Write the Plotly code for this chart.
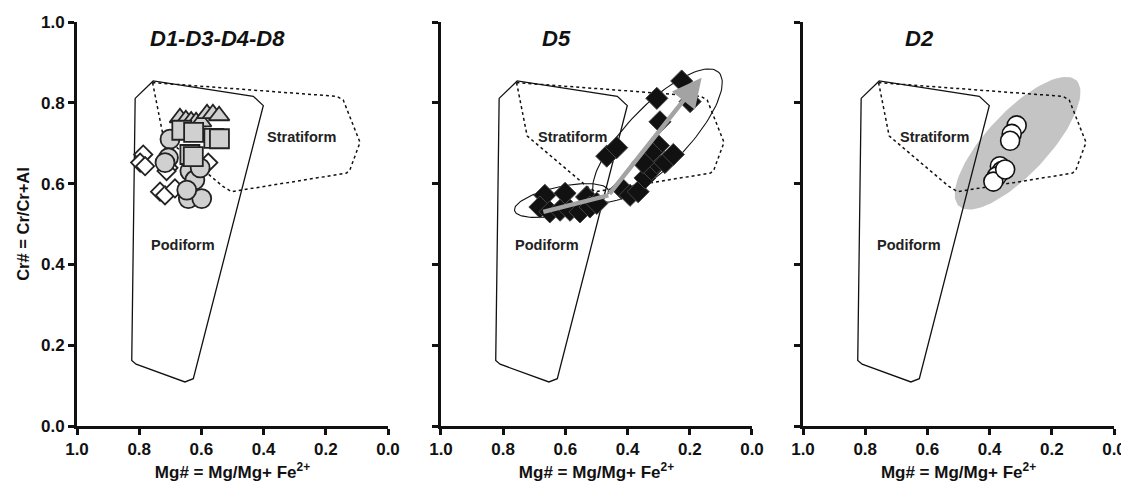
import numpy as np
import plotly.graph_objects as go

# ---------------- data ----------------
# Field outlines (Mg#, Cr#)
PODI_X = [0.813, 0.755, 0.433, 0.401, 0.626, 0.653, 0.810, 0.824, 0.813]
PODI_Y = [0.811, 0.854, 0.816, 0.793, 0.117, 0.109, 0.153, 0.162, 0.811]
STRAT_X = [0.757, 0.723, 0.531, 0.503, 0.133, 0.122, 0.090, 0.144, 0.165, 0.757]
STRAT_Y = [0.850, 0.718, 0.593, 0.580, 0.626, 0.635, 0.702, 0.807, 0.816, 0.850]

# Panel 1: D1-D3-D4-D8
P1_DIAM_X = [0.787, 0.797, 0.781, 0.706, 0.733, 0.717, 0.685, 0.578, 0.712]
P1_DIAM_Y = [0.672, 0.652, 0.643, 0.639, 0.580, 0.571, 0.588, 0.652, 0.631]
P1_CIRC_X = [0.701, 0.706, 0.717, 0.637, 0.621, 0.642, 0.599, 0.647, 0.604]
P1_CIRC_Y = [0.710, 0.664, 0.652, 0.631, 0.609, 0.563, 0.563, 0.584, 0.639]
P1_TRI_X = [0.669, 0.650, 0.633, 0.617, 0.601, 0.582, 0.563, 0.543]
P1_TRI_Y = [0.763, 0.758, 0.755, 0.753, 0.753, 0.773, 0.773, 0.768]
P1_SQ_X = [0.663, 0.625, 0.560, 0.542, 0.637, 0.626]
P1_SQ_Y = [0.732, 0.727, 0.712, 0.711, 0.672, 0.667]

# Panel 2: D5
P2_X = [0.666, 0.601, 0.532, 0.682, 0.650, 0.617, 0.585, 0.553, 0.521, 0.499,
        0.467, 0.435, 0.419, 0.392, 0.366, 0.344, 0.323, 0.306, 0.280, 0.253,
        0.301, 0.323, 0.296, 0.306, 0.226, 0.199, 0.350]
P2_Y = [0.571, 0.576, 0.567, 0.542, 0.530, 0.534, 0.534, 0.530, 0.542, 0.551,
        0.668, 0.689, 0.588, 0.571, 0.580, 0.614, 0.635, 0.652, 0.652, 0.672,
        0.694, 0.677, 0.753, 0.811, 0.854, 0.803, 0.652]
ARROW_X = [0.671, 0.462, 0.162]
ARROW_Y = [0.530, 0.571, 0.862]

# Panel 3: D2
P3_X = [0.313, 0.329, 0.334, 0.367, 0.361, 0.377, 0.388, 0.350]
P3_Y = [0.744, 0.723, 0.706, 0.643, 0.631, 0.618, 0.605, 0.635]

# Ellipses: centre (Mg#, Cr#), semi-axes in px, tilt in degrees
ELL_SMALL = dict(cx=0.6125, cy=0.558, a=48, b=14, ang=12)
ELL_BIG = dict(cx=0.304, cy=0.719, a=88, b=30, ang=46)
ELL_GRAY = dict(cx=0.310, cy=0.700, a=86, b=31, ang=47)

TITLES = ["D1-D3-D4-D8", "D5", "D2"]
TITLE_X = [0.547, 0.630, 0.624]
TICKS = [0.0, 0.2, 0.4, 0.6, 0.8, 1.0]

# ---------------- layout constants ----------------
# the page body has an 8px default margin, so the figure is 8px smaller
W, H = 1121, 480
ML, MR, MT, MB = 69, 15, 14, 62
PW = W - ML - MR
PH = H - MT - MB
DOMAINS = [[0.0, 0.2999], [0.3510, 0.6509], [0.7001, 1.0]]
PX_PER_X = PW * (DOMAINS[0][1] - DOMAINS[0][0])
PX_PER_Y = PH

FONT = "Liberation Sans, Arial, sans-serif"


def ellipse(e, n=120):
    t = np.linspace(0, 2 * np.pi, n)
    th = np.radians(e["ang"])
    ox = e["a"] * np.cos(t) * np.cos(th) - e["b"] * np.sin(t) * np.sin(th)
    oy = e["a"] * np.cos(t) * np.sin(th) + e["b"] * np.sin(t) * np.cos(th)
    return e["cx"] - ox / PX_PER_X, e["cy"] + oy / PX_PER_Y


fig = go.Figure()

for i in range(3):
    xa = "x" if i == 0 else f"x{i+1}"
    ya = "y" if i == 0 else f"y{i+1}"
    if i == 2:
        gx, gy = ellipse(ELL_GRAY)
        fig.add_trace(go.Scatter(x=gx, y=gy, mode="lines", fill="toself",
                                 fillcolor="#c4c4c4", line=dict(width=0),
                                 xaxis=xa, yaxis=ya, hoverinfo="skip"))
    fig.add_trace(go.Scatter(x=PODI_X, y=PODI_Y, mode="lines",
                             line=dict(color="#111", width=1.3),
                             xaxis=xa, yaxis=ya, hoverinfo="skip"))
    fig.add_trace(go.Scatter(x=STRAT_X, y=STRAT_Y, mode="lines",
                             line=dict(color="#111", width=1.5, dash="3px,3px"),
                             xaxis=xa, yaxis=ya, hoverinfo="skip"))

# Panel 1 markers
fig.add_trace(go.Scatter(x=P1_DIAM_X, y=P1_DIAM_Y, mode="markers",
                         marker=dict(symbol="diamond", size=14, color="white",
                                     line=dict(color="#222", width=1.8))))
fig.add_trace(go.Scatter(x=P1_CIRC_X, y=P1_CIRC_Y, mode="markers",
                         marker=dict(symbol="circle", size=19, color="#d0d0d0",
                                     line=dict(color="#222", width=1.8))))
fig.add_trace(go.Scatter(x=P1_TRI_X, y=P1_TRI_Y, mode="markers",
                         marker=dict(symbol="triangle-up", size=18, color="#d0d0d0",
                                     line=dict(color="#222", width=1.8))))
fig.add_trace(go.Scatter(x=P1_SQ_X, y=P1_SQ_Y, mode="markers",
                         marker=dict(symbol="square", size=19, color="#d0d0d0",
                                     line=dict(color="#222", width=1.8))))

# Panel 2
for e in (ELL_SMALL, ELL_BIG):
    ex, ey = ellipse(e)
    fig.add_trace(go.Scatter(x=ex, y=ey, mode="lines", line=dict(color="#111", width=1.1),
                             xaxis="x2", yaxis="y2", hoverinfo="skip"))
fig.add_trace(go.Scatter(x=P2_X, y=P2_Y, mode="markers", xaxis="x2", yaxis="y2",
                         marker=dict(symbol="diamond", size=17, color="#111",
                                     line=dict(color="#444", width=1))))
fig.add_trace(go.Scatter(x=ARROW_X[:2], y=ARROW_Y[:2], mode="lines", xaxis="x2", yaxis="y2",
                         line=dict(color="#a3a3a3", width=4.5), hoverinfo="skip"))
fig.add_annotation(x=ARROW_X[2], y=ARROW_Y[2], ax=ARROW_X[1], ay=ARROW_Y[1],
                   xref="x2", yref="y2", axref="x2", ayref="y2", text="",
                   showarrow=True, arrowhead=2, arrowsize=1.3, arrowwidth=4.5,
                   arrowcolor="#a3a3a3")

# Panel 3
fig.add_trace(go.Scatter(x=P3_X, y=P3_Y, mode="markers", xaxis="x3", yaxis="y3",
                         marker=dict(symbol="circle", size=19, color="white",
                                     line=dict(color="#111", width=1.6))))

# Text labels
for i in range(3):
    xr = "x" if i == 0 else f"x{i+1}"
    yr = "y" if i == 0 else f"y{i+1}"
    fig.add_annotation(x=TITLE_X[i], y=0.96, xref=xr, yref=yr, showarrow=False,
                       text=f"<b><i>{TITLES[i]}</i></b>",
                       font=dict(size=22, color="#111", family=FONT))
    fig.add_annotation(x=0.278 if i == 0 else 0.578, y=0.715, xref=xr, yref=yr,
                       showarrow=False, text="<b>Stratiform</b>",
                       font=dict(size=14.5, color="#222", family=FONT))
    fig.add_annotation(x=0.660, y=0.449, xref=xr, yref=yr, showarrow=False,
                       text="<b>Podiform</b>",
                       font=dict(size=14.5, color="#222", family=FONT))

axis_common = dict(range=[1.0, 0.0], showgrid=False, zeroline=False, automargin=False,
                   showline=True, linecolor="#111", linewidth=3,
                   ticks="outside", ticklen=6, tickwidth=3, tickcolor="#111",
                   tickvals=TICKS, ticktext=[f"{t:.1f}" for t in TICKS],
                   tickfont=dict(size=17, color="#111", family=FONT, weight="bold"),
                   title=dict(text="Mg# = Mg/Mg+ Fe<sup>2+</sup>", standoff=8,
                              font=dict(size=17, color="#111", family=FONT, weight="bold")))
yaxis_common = dict(range=[0.0, 1.0], showgrid=False, zeroline=False, automargin=False,
                    showline=True, linecolor="#111", linewidth=3,
                    ticks="outside", ticklen=6, tickwidth=3, tickcolor="#111",
                    tickvals=TICKS, ticktext=[f"{t:.1f}" for t in TICKS],
                    tickfont=dict(size=17, color="#111", family=FONT, weight="bold"))

layout = dict(width=W, height=H, margin=dict(l=ML, r=MR, t=MT, b=MB),
              paper_bgcolor="white", plot_bgcolor="white", showlegend=False,
              font=dict(family=FONT))
for i in range(3):
    xk = "xaxis" if i == 0 else f"xaxis{i+1}"
    yk = "yaxis" if i == 0 else f"yaxis{i+1}"
    xa = dict(axis_common, domain=DOMAINS[i], anchor="y" if i == 0 else f"y{i+1}")
    ya = dict(yaxis_common, domain=[0, 1], anchor="x" if i == 0 else f"x{i+1}")
    if i == 0:
        ya["title"] = dict(text="Cr# = Cr/Cr+Al", standoff=8,
                           font=dict(size=16.5, color="#111", family=FONT, weight="bold"))
    else:
        ya["showticklabels"] = False
    layout[xk] = xa
    layout[yk] = ya

fig.update_layout(**layout)
fig.write_html("out.html")
